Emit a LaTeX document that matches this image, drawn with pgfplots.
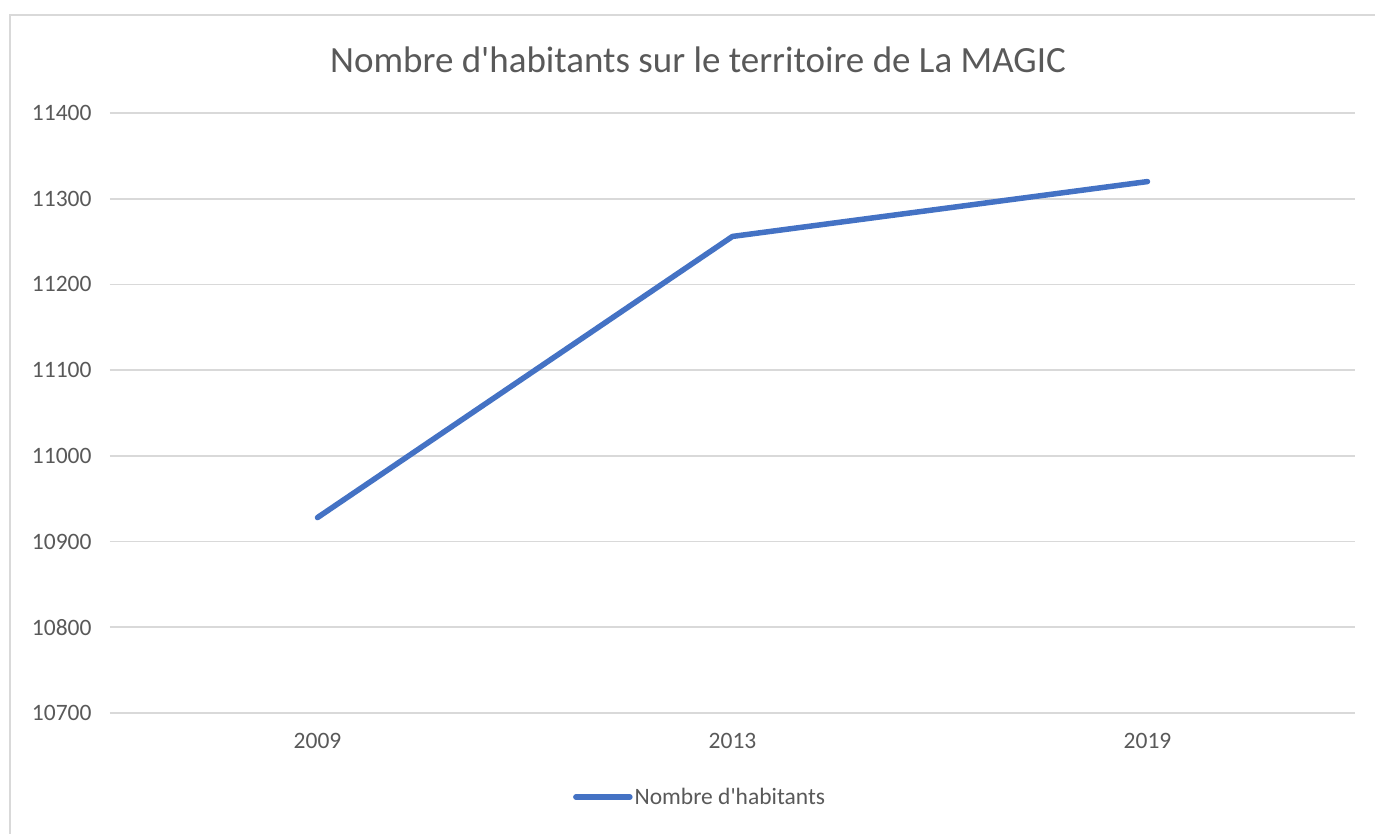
\documentclass[border=0pt]{standalone}
\usepackage{fontspec}
\setmainfont{Carlito}
\usepackage{pgfplots}
\pgfplotsset{compat=1.18}
\definecolor{txt}{HTML}{595959}
\definecolor{grd}{HTML}{D9D9D9}
\definecolor{ser}{HTML}{4472C4}
\begin{document}
\begin{tikzpicture}
\useasboundingbox (-110bp,-121bp) rectangle (1265bp,713bp);
\draw[grd,line width=2bp] (-100bp,-140bp) -- (-100bp,698bp) -- (1290bp,698bp);
\begin{axis}[
  at={(0,0)}, anchor=south west,
  scale only axis, width=1245bp, height=600bp,
  xmin=-0.5, xmax=2.5, ymin=10700, ymax=11400,
  xtick={0,1,2}, xticklabels={2009,2013,2019},
  ytick={10700,10800,10900,11000,11100,11200,11300,11400},
  axis line style={draw=none},
  tick style={draw=none},
  ymajorgrids, grid style={grd,line width=1.6bp},
  /pgf/number format/assume math mode=true,
  scaled y ticks=false,
  yticklabel style={/pgf/number format/1000 sep={}, font=\fontsize{23.5bp}{28bp}\selectfont, text=txt, xshift=-15bp},
  xticklabel style={font=\fontsize{23.5bp}{28bp}\selectfont, text=txt, yshift=-17bp},
  legend style={draw=none, at={(0.474,-0.14)}, anchor=center, font=\fontsize{23.5bp}{28bp}\selectfont, text=txt, inner sep=0pt},
  legend image code/.code={\draw[#1] (0bp,0bp) -- (54bp,0bp);},
  clip=false,
]
\addplot[ser, line width=5.5bp, line cap=round, line join=round] coordinates {(0,10928) (1,11256) (2,11320)};
\addlegendentry{Nombre d\textquotesingle habitants}
\end{axis}
\node[text=txt, font=\fontsize{37bp}{44bp}\selectfont] at (588bp,653bp) {Nombre d\textquotesingle habitants sur le territoire de La MAGIC};
\end{tikzpicture}
\end{document}
